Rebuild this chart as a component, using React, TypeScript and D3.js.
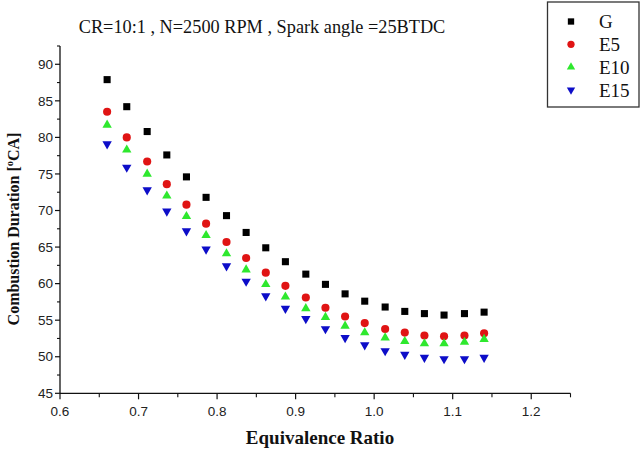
import * as d3 from "d3";

// equivalence ratio values (x) shared by all fuels
const phi = [
  0.66, 0.685, 0.711, 0.736, 0.761, 0.786, 0.812, 0.837, 0.862, 0.887,
  0.913, 0.938, 0.963, 0.988, 1.014, 1.039, 1.064, 1.089, 1.115, 1.14,
];

const gasoline = [
  87.9, 84.2, 80.8, 77.6, 74.6, 71.8, 69.3, 67.0, 64.9, 63.0,
  61.3, 59.9, 58.6, 57.6, 56.8, 56.2, 55.9, 55.7, 55.9, 56.1,
];
const e5 = [
  83.5, 80.0, 76.7, 73.6, 70.8, 68.2, 65.7, 63.5, 61.5, 59.7,
  58.1, 56.7, 55.5, 54.6, 53.8, 53.3, 52.9, 52.8, 52.9, 53.2,
];
const e10 = [
  81.7, 78.3, 75.0, 72.0, 69.2, 66.6, 64.1, 61.9, 59.9, 58.2,
  56.6, 55.4, 54.2, 53.3, 52.6, 52.1, 51.8, 51.8, 52.0, 52.4,
];
const e15 = [
  79.1, 75.9, 72.8, 69.9, 67.2, 64.7, 62.4, 60.3, 58.3, 56.6,
  55.2, 53.8, 52.6, 51.6, 50.8, 50.3, 49.9, 49.7, 49.7, 49.9,
];

const xTicks = [0.6, 0.7, 0.8, 0.9, 1.0, 1.1, 1.2];
const yTicks = [45, 50, 55, 60, 65, 70, 75, 80, 85, 90];

const series = [
  { name: "G", values: gasoline, color: "#000000", shape: "square" },
  { name: "E5", values: e5, color: "#e01414", shape: "circle" },
  { name: "E10", values: e10, color: "#2ee82e", shape: "up" },
  { name: "E15", values: e15, color: "#0d0dc8", shape: "down" },
];

const title = "CR=10:1 , N=2500 RPM , Spark angle =25BTDC";

const width = 643;
const height = 450;
const margin = { top: 46, right: 74, bottom: 56.7, left: 60 };

function markerPath(shape: string, scale = 1) {
  if (shape === "square") return d3.symbol(d3.symbolSquare, 50 * scale)()!;
  if (shape === "circle") return d3.symbol(d3.symbolCircle, 52 * scale)()!;
  return d3.symbol(d3.symbolTriangle, 38 * scale)()!;
}

export default function App() {
  const x = d3
    .scaleLinear()
    .domain([0.6, 1.25])
    .range([margin.left, width - margin.right + 1.5]);
  const y = d3
    .scaleLinear()
    .domain([45, 92.5])
    .range([height - margin.bottom, margin.top]);
  const y0 = y(45);
  const xMinor = d3.range(0.65, 1.26, 0.1);
  const yMinor = d3.range(47.5, 92.6, 5);
  const font = "'Liberation Sans', Arial, sans-serif";
  const serif = "'Liberation Serif', 'Times New Roman', serif";

  return (
    <svg
      width={width}
      height={height}
      style={{ position: "absolute", left: 0, top: 0, background: "#fff" }}
    >
      <text
        x={262}
        y={33}
        textAnchor="middle"
        fontFamily={serif}
        fontSize={18.3}
        fill="#111"
      >
        {title}
      </text>

      {/* axes */}
      <line x1={x(0.6)} x2={x(0.6)} y1={y(92.5)} y2={y0} stroke="#111" strokeWidth={1.3} />
      <line x1={x(0.6)} x2={x(1.25)} y1={y0} y2={y0} stroke="#111" strokeWidth={1.3} />

      {yTicks.map((t) => (
        <g key={"y" + t}>
          <line x1={x(0.6) - 5} x2={x(0.6)} y1={y(t)} y2={y(t)} stroke="#111" strokeWidth={1.2} />
          <text
            x={x(0.6) - 7}
            y={y(t)}
            dy="0.35em"
            textAnchor="end"
            fontFamily={font}
            fontSize={13.5}
            fill="#222"
          >
            {t}
          </text>
        </g>
      ))}
      {yMinor.map((t) => (
        <line key={"ym" + t} x1={x(0.6) - 3} x2={x(0.6)} y1={y(t)} y2={y(t)} stroke="#111" strokeWidth={1.1} />
      ))}

      {xTicks.map((t) => (
        <g key={"x" + t}>
          <line x1={x(t)} x2={x(t)} y1={y0} y2={y0 + 6} stroke="#111" strokeWidth={1.2} />
          <text
            x={x(t)}
            y={y0 + 23}
            textAnchor="middle"
            fontFamily={font}
            fontSize={13.5}
            fill="#222"
          >
            {t.toFixed(1)}
          </text>
        </g>
      ))}
      {xMinor.map((t) => (
        <line key={"xm" + t} x1={x(t)} x2={x(t)} y1={y0} y2={y0 + 4} stroke="#111" strokeWidth={1.1} />
      ))}

      <text
        x={320}
        y={444}
        textAnchor="middle"
        fontFamily={serif}
        fontWeight="bold"
        fontSize={19}
        fill="#111"
      >
        Equivalence Ratio
      </text>
      <text
        transform={`translate(19,229) rotate(-90)`}
        textAnchor="middle"
        fontFamily={serif}
        fontWeight="bold"
        fontSize={16}
        fill="#111"
      >
        Combustion Duration [<tspan dy={-6} fontSize={10.5}>o</tspan>
        <tspan dy={6}>CA]</tspan>
      </text>

      {/* data */}
      {series.map((s) => (
        <g key={s.name} fill={s.color}>
          {s.values.map((v, i) => (
            <path
              key={i}
              d={markerPath(s.shape)}
              transform={`translate(${x(phi[i])},${y(v)})${s.shape === "down" ? " rotate(180)" : ""}`}
            />
          ))}
        </g>
      ))}

      {/* legend */}
      <rect x={547.5} y={2} width={91.5} height={105} fill="#fff" stroke="#333" strokeWidth={1.3} />
      {series.map((s, i) => (
        <g key={"lg" + s.name} transform={`translate(0,${21.5 + i * 22.8})`}>
          <path
            d={markerPath(s.shape, 0.8)}
            fill={s.color}
            transform={`translate(571,0)${s.shape === "down" ? " rotate(180)" : ""}`}
          />
          <text x={599} y={0} dy="0.35em" fontFamily={serif} fontSize={19} fill="#111">
            {s.name}
          </text>
        </g>
      ))}
    </svg>
  );
}
